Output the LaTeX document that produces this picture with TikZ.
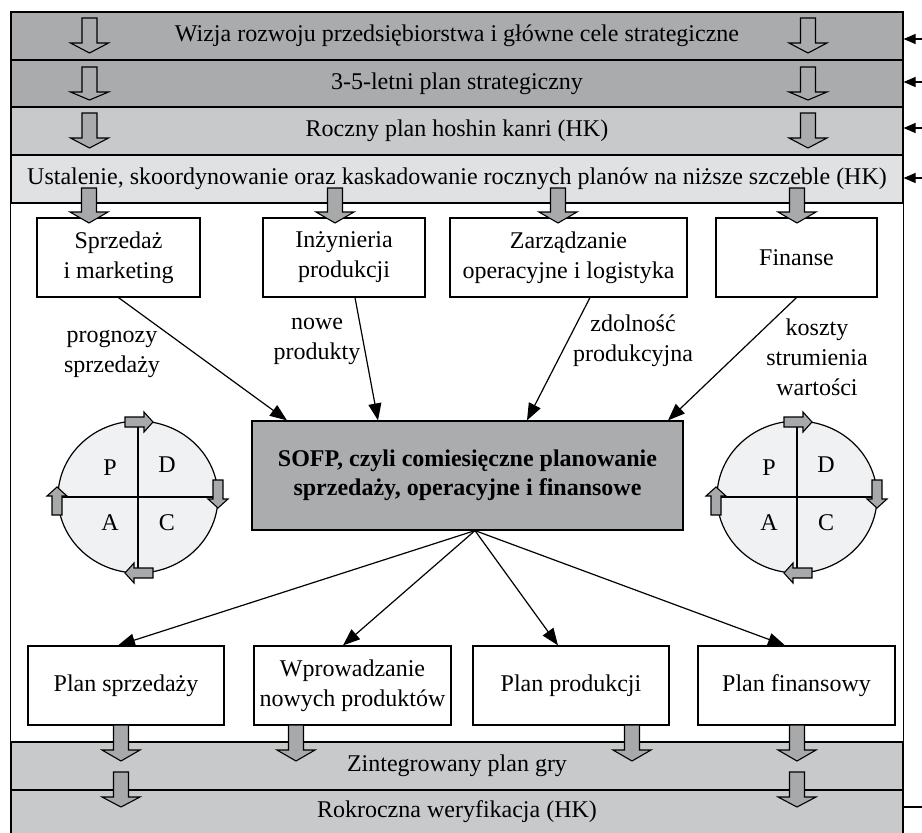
\documentclass[tikz,border=0pt]{standalone}
\usepackage{fontspec}
\setmainfont{Liberation Serif}
\usetikzlibrary{arrows.meta}
\definecolor{gdark}{HTML}{AAABAD}
\definecolor{gmid}{HTML}{C8C9CB}
\definecolor{glight}{HTML}{E0E1E2}
\definecolor{gsofp}{HTML}{ABACAE}
\definecolor{gcirc}{HTML}{F0F1F2}
\definecolor{garr}{HTML}{A8A9AB}
% fill, x, ytop, yhead, ytip, shaft half-width
\newcommand\DownBlk[6]{%
  \draw[blk,fill=#1] (#2-#6,#3) -- (#2+#6,#3) -- (#2+#6,#4) -- (#2+19,#4) -- (#2,#5) -- (#2-19,#4) -- (#2-#6,#4) -- cycle;}
% x, y, angle
\newcommand\PdcaArr[3]{%
  \begin{scope}[shift={(#1,#2)},rotate=#3]
    \draw[blk,fill=garr] (0,-5) -- (19,-5) -- (19,-10) -- (28,0) -- (19,10) -- (19,5) -- (0,5) -- cycle;
  \end{scope}}
% name, cx, cy
\newcommand\Pdca[3]{%
  \draw[line width=1.2pt, fill=gcirc] (#2,#3) ellipse [x radius=80pt, y radius=76pt];
  \draw[line width=1.2pt] (#2,#3-75) -- (#2,#3+76);
  \draw[line width=1.2pt] (#2-76,#3) -- (#2+75,#3);
  \node (#1P) at (#2-28,#3-29) {P};
  \node (#1D) at (#2+29,#3-32) {D};
  \node (#1A) at (#2-28,#3+26) {A};
  \node (#1C) at (#2+29,#3+26) {C};
  \PdcaArr{#2-13}{#3-75}{0}
  \PdcaArr{#2+80}{#3-17}{-90}
  \PdcaArr{#2+15}{#3+76}{180}
  \PdcaArr{#2-81}{#3+18}{90}}

\begin{document}
\begin{tikzpicture}[x=1pt,y=-1pt,
  every node/.style={font=\fontsize{24}{30}\selectfont, inner sep=0pt},
  band/.style={draw, line width=1.2pt, minimum width=892pt, anchor=center},
  box/.style={draw, line width=1.2pt, fill=white, align=center},
  lbl/.style={align=center},
  conn/.style={line width=1.2pt, -{Triangle[length=17pt,width=13pt]}},
  fb/.style={line width=1.2pt, -{Triangle[length=12pt,width=10pt]}},
  blk/.style={line width=1.1pt, line join=miter},
]
\useasboundingbox (0,0) rectangle (922,833);

% bands
\node[band, fill=gdark, minimum height=48pt] (b1) at (457,36) {Wizja rozwoju przedsiębiorstwa i główne cele strategiczne};
\node[band, fill=gdark, minimum height=47pt] (b2) at (457,83.5) {3-5-letni plan strategiczny};
\node[band, fill=gmid, minimum height=48pt] (b3) at (457,131) {Roczny plan hoshin kanri (HK)};
\node[band, fill=glight, minimum height=48pt] (b4) at (457,179) {Ustalenie, skoordynowanie oraz kaskadowanie rocznych planów na niższe szczeble (HK)};
\node[band, fill=gmid, minimum height=48pt] (b5) at (457,766) {Zintegrowany plan gry};
\node[band, fill=gmid, minimum height=44pt] (b6) at (457,812) {Rokroczna weryfikacja (HK)};
\draw[line width=1.2pt] (b4.south west) -- (b5.north west);
\draw[line width=1.2pt] (b4.south east) -- (b5.north east);

% top boxes
\node[box, minimum width=163pt, minimum height=79pt] (sm) at (118.5,257.5) {Sprzedaż\\i marketing};
\node[box, minimum width=162pt, minimum height=79pt] (ip) at (344,257.5) {Inżynieria\\produkcji};
\node[box, minimum width=237pt, minimum height=79pt] (zo) at (568.5,257.5) {Zarządzanie\\operacyjne i logistyka};
\node[box, minimum width=161pt, minimum height=79pt] (fi) at (796.5,257.5) {Finanse};

% central box
\node[box, fill=gsofp, minimum width=431pt, minimum height=109pt, font=\fontsize{24}{29}\selectfont\bfseries] (sofp) at (467.5,475.5) {SOFP, czyli comiesięczne planowanie\\sprzedaży, operacyjne i finansowe};

% bottom boxes
\node[box, minimum width=196pt, minimum height=79pt] (ps) at (126,685.5) {Plan sprzedaży};
\node[box, minimum width=197pt, minimum height=79pt] (wn) at (352.5,685.5) {Wprowadzanie\\nowych produktów};
\node[box, minimum width=196pt, minimum height=79pt] (pp) at (571,685.5) {Plan produkcji};
\node[box, minimum width=197pt, minimum height=79pt] (pf) at (796.5,685.5) {Plan finansowy};

% connectors in
\draw[conn] (sm.south) -- ([xshift=-180.5pt]sofp.north);
\draw[conn] ([xshift=11pt]ip.south) -- ([xshift=-89.5pt]sofp.north);
\draw[conn] ([xshift=21.5pt]zo.south) -- ([xshift=59.5pt]sofp.north);
\draw[conn] (fi.south) -- ([xshift=200.5pt]sofp.north);
% connectors out
\coordinate (sofpout) at ([xshift=7.5pt]sofp.south);
\draw[conn] (sofpout) -- ([xshift=-8pt]ps.north);
\draw[conn] (sofpout) -- ([xshift=-9.5pt]wn.north);
\draw[conn] (sofpout) -- ([xshift=-13pt]pp.north);
\draw[conn] (sofpout) -- ([xshift=-11.5pt]pf.north);

% labels
\node[lbl] (l1) at (112,354) {prognozy\\sprzedaży};
\node[lbl] (l2) at (317,341) {nowe\\produkty};
\node[lbl] (l3) at (633,341) {zdolność\\produkcyjna};
\node[lbl] (l4) at (817,357) {koszty\\strumienia\\wartości};

% PDCA circles
\Pdca{pl}{138}{497}
\Pdca{pr}{797}{497}

% block arrows in top bands
\DownBlk{gdark}{89.5}{18}{43}{53}{7.5}
\DownBlk{gdark}{808}{18}{43}{53}{7.5}
\DownBlk{gdark}{89.5}{67}{92}{100}{7.5}
\DownBlk{gdark}{808}{67}{92}{100}{7.5}
\DownBlk{gdark}{89.5}{113}{138}{148}{7.5}
\DownBlk{gdark}{808}{113}{138}{148}{7.5}
% into top boxes
\DownBlk{garr}{89}{188}{212}{223}{7.5}
\DownBlk{garr}{335}{188}{212}{223}{7.5}
\DownBlk{garr}{558}{188}{212}{223}{7.5}
\DownBlk{garr}{797}{188}{212}{223}{7.5}
% out of bottom boxes
\DownBlk{garr}{121}{725}{750}{761}{7.5}
\DownBlk{garr}{296}{725}{750}{761}{7.5}
\DownBlk{garr}{632}{725}{750}{761}{7.5}
\DownBlk{garr}{797}{725}{750}{761}{7.5}
\DownBlk{garr}{121}{772}{797}{807}{7.5}
\DownBlk{garr}{797}{772}{797}{807}{7.5}

% feedback arrows on the right
\coordinate (f1) at (922,39);
\coordinate (f2) at (922,82);
\coordinate (f3) at (922,128);
\coordinate (f4) at (922,178);
\coordinate (f5) at (922,807);
\draw[fb] (f1) -- (f1 -| b1.east);
\draw[fb] (f2) -- (f2 -| b2.east);
\draw[fb] (f3) -- (f3 -| b3.east);
\draw[fb] (f4) -- (f4 -| b4.east);
\draw[line width=1.2pt] (f5 -| b6.east) -- (f5);
\end{tikzpicture}
\end{document}
